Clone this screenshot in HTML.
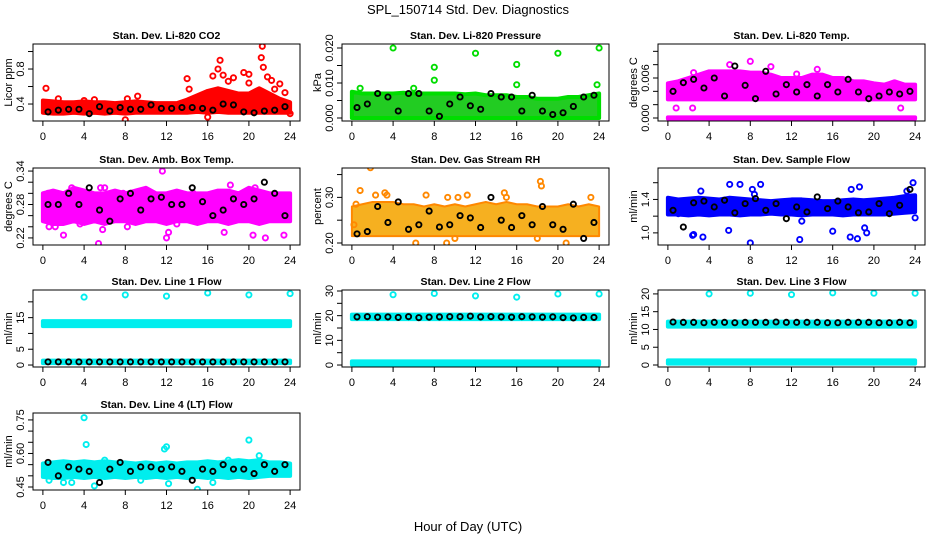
<!DOCTYPE html>
<html><head><meta charset="utf-8"><style>
html,body{margin:0;padding:0;background:#fff;}
svg{display:block;font-family:"Liberation Sans",sans-serif;}
</style></head><body>
<svg id="chart" width="936" height="540" viewBox="0 0 936 540" xmlns="http://www.w3.org/2000/svg">
<rect width="936" height="540" fill="#fff"/>
<text x="468" y="14" font-size="13" text-anchor="middle">SPL_150714  Std. Dev. Diagnostics</text>
<text x="468" y="531" font-size="13" text-anchor="middle">Hour of Day (UTC)</text>
</svg>
<script>
const hours=[0,1,2,3,4,5,6,7,8,9,10,11,12,13,14,15,16,17,18,19,20,21,22,23,24];
const blackHours=[0.5,1.5,2.5,3.5,4.5,5.5,6.5,7.5,8.5,9.5,10.5,11.5,12.5,13.5,14.5,15.5,16.5,17.5,18.5,19.5,20.5,21.5,22.5,23.5];
const xTicks=[0,4,8,12,16,20,24];

// CO2
const co2Low=[0.30,0.29,0.29,0.30,0.29,0.30,0.29,0.30,0.29,0.30,0.30,0.30,0.30,0.30,0.30,0.31,0.30,0.31,0.30,0.30,0.30,0.30,0.30,0.30,0.30];
const co2High=[0.44,0.43,0.42,0.42,0.43,0.42,0.42,0.41,0.42,0.43,0.42,0.41,0.41,0.41,0.45,0.50,0.55,0.58,0.55,0.52,0.52,0.58,0.52,0.46,0.42];
const co2X=[0.3,1.5,4,5,8,8.2,9.2,14,14.2,16,16.5,17,17.2,17.5,18,18.5,19.5,20,20,21.2,21.3,21.4,21.8,22.2,22.5,23,23.5,24];
const co2Y=[0.58,0.46,0.44,0.45,0.22,0.46,0.49,0.69,0.57,0.25,0.72,0.80,0.90,0.73,0.66,0.70,0.76,0.74,0.64,0.93,1.06,0.82,0.71,0.67,0.57,0.63,0.53,0.29];
const co2Black=[0.31,0.33,0.34,0.34,0.29,0.37,0.32,0.36,0.34,0.34,0.39,0.35,0.35,0.36,0.36,0.35,0.33,0.40,0.39,0.31,0.30,0.32,0.33,0.37];

// Pressure
const presLow=[0,0,0,0,0,0,0,0,0,0,0,0,0,0,0,0,0,0,0,0,0,0,0,0,0];
const presHigh=[0.0075,0.007,0.007,0.007,0.007,0.0072,0.007,0.007,0.007,0.007,0.007,0.0068,0.007,0.0065,0.0065,0.0065,0.006,0.006,0.0055,0.0055,0.0055,0.006,0.006,0.0065,0.007];
const presX=[4,8,8,12,16,16,20,24,23.8,6,0.8];
const presY=[0.020,0.0145,0.0108,0.0185,0.0153,0.0095,0.0185,0.020,0.0095,0.0085,0.0085];
const presBlack=[0.003,0.004,0.007,0.006,0.002,0.007,0.007,0.002,0.0005,0.004,0.006,0.0035,0.0025,0.007,0.006,0.006,0.002,0.0065,0.002,0.001,0.0015,0.0033,0.006,0.0065];

// Li-820 Temp
const tempLow=[0.0028,0.0028,0.0028,0.0028,0.0028,0.0028,0.0028,0.0028,0.0028,0.0028,0.0028,0.0028,0.0028,0.0028,0.0028,0.0028,0.0028,0.0028,0.0028,0.0028,0.0028,0.0028,0.0028,0.0028,0.0028];
const tempHigh=[0.0052,0.0055,0.006,0.0065,0.007,0.007,0.007,0.007,0.0068,0.0068,0.0065,0.006,0.006,0.006,0.0065,0.0065,0.006,0.006,0.0055,0.0055,0.0052,0.005,0.0055,0.005,0.005];
const tempZeroLow=[-0.0001,-0.0001,-0.0001,-0.0001,-0.0001,-0.0001,-0.0001,-0.0001,-0.0001,-0.0001,-0.0001,-0.0001,-0.0001,-0.0001,-0.0001,-0.0001,-0.0001,-0.0001,-0.0001,-0.0001,-0.0001,-0.0001,-0.0001,-0.0001,-0.0001];
const tempZeroHigh=[0.0001,0.0001,0.0001,0.0001,0.0001,0.0001,0.0001,0.0001,0.0001,0.0001,0.0001,0.0001,0.0001,0.0001,0.0001,0.0001,0.0001,0.0001,0.0001,0.0001,0.0001,0.0001,0.0001,0.0001,0.0001];
const tempX=[2.5,6,8,10,14.5,0.8,2.4,22.6,4.5,12.5];
const tempY=[0.0068,0.008,0.0085,0.0077,0.0073,0.0015,0.0015,0.0015,0.0066,0.0066];
const tempBlack=[0.004,0.0053,0.0058,0.0045,0.006,0.0033,0.0078,0.0049,0.0029,0.007,0.0036,0.005,0.0039,0.005,0.0033,0.005,0.0039,0.0058,0.0039,0.0029,0.0033,0.0039,0.0036,0.004];

// Amb box temp
const boxLow=[0.25,0.245,0.245,0.25,0.245,0.25,0.245,0.25,0.25,0.245,0.25,0.25,0.245,0.25,0.25,0.245,0.25,0.25,0.245,0.25,0.25,0.245,0.25,0.25,0.25];
const boxHigh=[0.30,0.305,0.30,0.31,0.305,0.30,0.30,0.305,0.30,0.305,0.31,0.30,0.30,0.305,0.30,0.30,0.30,0.305,0.305,0.30,0.31,0.305,0.30,0.30,0.30];
const boxX=[0.5,2,2.8,5.4,5.6,5.8,6,7.8,9.8,11.6,12,12.2,17.6,18.2,20.4,21.6,23.4,14.6,0.6,3.6,8.2,13,20.6,1.2];
const boxY=[0.30,0.225,0.31,0.21,0.31,0.235,0.31,0.30,0.30,0.34,0.22,0.23,0.23,0.315,0.225,0.22,0.225,0.30,0.24,0.245,0.24,0.245,0.31,0.24];
const boxBlack=[0.28,0.28,0.30,0.28,0.31,0.27,0.25,0.29,0.30,0.27,0.29,0.293,0.28,0.28,0.31,0.285,0.26,0.27,0.29,0.28,0.29,0.32,0.30,0.26];

// Gas stream RH
const rhLow=[0.215,0.215,0.215,0.215,0.215,0.215,0.215,0.215,0.215,0.215,0.215,0.215,0.215,0.215,0.215,0.215,0.215,0.215,0.215,0.215,0.215,0.215,0.215,0.215,0.215];
const rhHigh=[0.28,0.285,0.29,0.29,0.29,0.285,0.285,0.28,0.285,0.28,0.285,0.28,0.285,0.29,0.285,0.29,0.285,0.285,0.28,0.28,0.28,0.285,0.28,0.285,0.28];
const rhX=[0.4,0.8,1.8,2.3,3.2,3.4,7.2,9.3,10.3,11.2,14.8,18.3,18.4,23.2,6.2,9.2,20.8,10,18,15,0.2];
const rhY=[0.285,0.315,0.365,0.305,0.31,0.305,0.305,0.30,0.30,0.305,0.31,0.335,0.325,0.30,0.20,0.20,0.20,0.21,0.21,0.30,0.24];
const rhBlack=[0.22,0.225,0.28,0.245,0.29,0.23,0.24,0.27,0.235,0.24,0.26,0.255,0.234,0.30,0.25,0.234,0.26,0.24,0.28,0.24,0.23,0.285,0.21,0.245];

// Sample flow
const flowLow=[1.22,1.22,1.21,1.22,1.21,1.22,1.22,1.21,1.22,1.22,1.23,1.22,1.22,1.21,1.22,1.22,1.22,1.21,1.22,1.22,1.22,1.22,1.23,1.24,1.25];
const flowHigh=[1.42,1.40,1.41,1.42,1.41,1.40,1.42,1.41,1.40,1.39,1.38,1.39,1.40,1.40,1.39,1.38,1.38,1.39,1.40,1.39,1.40,1.41,1.42,1.44,1.45];
const flowX=[2.4,2.5,3.2,3.4,5.9,6,7,8,8.2,8.4,9,12.8,16,17.7,17.8,18.4,18.6,19.1,19.3,23.2,23.8,24,1.0,13];
const flowY=[0.97,0.98,1.50,0.95,1.03,1.58,1.58,0.88,1.52,1.46,1.58,0.92,1.02,0.95,1.52,0.93,1.55,1.06,1.00,1.50,1.60,1.18,1.23,1.14];
const flowBlack=[1.27,1.07,1.36,1.38,1.31,1.39,1.24,1.35,1.41,1.27,1.35,1.17,1.31,1.25,1.43,1.29,1.38,1.31,1.24,1.25,1.35,1.23,1.33,1.52];

// Line 1
const l1TopLow=[12.3,12.3,12.3,12.3,12.3,12.3,12.3,12.3,12.3,12.3,12.3,12.3,12.3,12.3,12.3,12.3,12.3,12.3,12.3,12.3,12.3,12.3,12.3,12.3,12.3];
const l1TopHigh=[13.9,13.9,13.9,13.9,13.9,13.9,13.9,13.9,13.9,13.9,13.9,13.9,13.9,13.9,13.9,13.9,13.9,13.9,13.9,13.9,13.9,13.9,13.9,13.9,13.9];
const l1BotLow=[0.6,0.6,0.6,0.6,0.6,0.6,0.6,0.6,0.6,0.6,0.6,0.6,0.6,0.6,0.6,0.6,0.6,0.6,0.6,0.6,0.6,0.6,0.6,0.6,0.6];
const l1BotHigh=[1.4,1.4,1.4,1.4,1.4,1.4,1.4,1.4,1.4,1.4,1.4,1.4,1.4,1.4,1.4,1.4,1.4,1.4,1.4,1.4,1.4,1.4,1.4,1.4,1.4];
const l1X=[4,8,12,16,20,24];
const l1Y=[21.5,22.2,21.8,22.8,22.2,22.6];
const l1Black=[1.0,1.0,1.0,1.0,1.0,1.0,1.0,1.0,1.0,1.0,1.0,1.0,1.0,1.0,1.0,1.0,1.0,1.0,1.0,1.0,1.0,1.0,1.0,1.0];

// Line 2
const l2TopLow=[18.6,18.6,18.6,18.6,18.6,18.6,18.6,18.6,18.6,18.6,18.6,18.6,18.6,18.6,18.6,18.6,18.6,18.6,18.6,18.6,18.6,18.6,18.6,18.6,18.6];
const l2TopHigh=[20.4,20.4,20.4,20.4,20.4,20.4,20.4,20.4,20.4,20.4,20.4,20.4,20.4,20.4,20.4,20.4,20.4,20.4,20.4,20.4,20.4,20.4,20.4,20.4,20.4];
const l2BotLow=[0.2,0.2,0.2,0.2,0.2,0.2,0.2,0.2,0.2,0.2,0.2,0.2,0.2,0.2,0.2,0.2,0.2,0.2,0.2,0.2,0.2,0.2,0.2,0.2,0.2];
const l2BotHigh=[1.5,1.5,1.5,1.5,1.5,1.5,1.5,1.5,1.5,1.5,1.5,1.5,1.5,1.5,1.5,1.5,1.5,1.5,1.5,1.5,1.5,1.5,1.5,1.5,1.5];
const l2X=[4,8,12,16,20,24];
const l2Y=[28.5,29.0,28.0,27.5,28.8,28.8];
const l2Black=[19.5,19.6,19.4,19.5,19.3,19.6,19.2,19.4,19.5,19.6,19.6,19.8,19.5,19.6,19.5,19.4,19.6,19.5,19.4,19.5,19.2,19.1,19.3,19.3];

// Line 3
const l3TopLow=[10.8,10.8,10.8,10.8,10.8,10.8,10.8,10.8,10.8,10.8,10.8,10.8,10.8,10.8,10.8,10.8,10.8,10.8,10.8,10.8,10.8,10.8,10.8,10.8,10.8];
const l3TopHigh=[12.2,12.2,12.2,12.2,12.2,12.2,12.2,12.2,12.2,12.2,12.2,12.2,12.2,12.2,12.2,12.2,12.2,12.2,12.2,12.2,12.2,12.2,12.2,12.2,12.2];
const l3BotLow=[0.4,0.4,0.4,0.4,0.4,0.4,0.4,0.4,0.4,0.4,0.4,0.4,0.4,0.4,0.4,0.4,0.4,0.4,0.4,0.4,0.4,0.4,0.4,0.4,0.4];
const l3BotHigh=[1.3,1.3,1.3,1.3,1.3,1.3,1.3,1.3,1.3,1.3,1.3,1.3,1.3,1.3,1.3,1.3,1.3,1.3,1.3,1.3,1.3,1.3,1.3,1.3,1.3];
const l3X=[4,8,12,16,20,24];
const l3Y=[20.0,20.2,19.8,20.3,20.2,20.2];
const l3Black=[12.1,12.0,12.0,11.9,12.0,12.0,11.9,12.0,12.0,12.0,12.1,12.0,12.0,12.0,12.0,11.9,11.9,12.0,12.0,12.0,11.9,11.9,12.0,11.9];

// Line 4
const l4Low=[0.495,0.49,0.49,0.495,0.49,0.495,0.49,0.495,0.49,0.495,0.49,0.495,0.49,0.495,0.49,0.495,0.49,0.495,0.49,0.495,0.49,0.495,0.50,0.50,0.50];
const l4High=[0.555,0.56,0.565,0.56,0.565,0.56,0.565,0.56,0.56,0.555,0.56,0.555,0.56,0.555,0.56,0.56,0.565,0.56,0.565,0.57,0.565,0.57,0.56,0.56,0.555];
const l4X=[4,4.2,12,20,21,15,2,2.8,0.6,5,11.8,12.2,18,16.5,6,9.5];
const l4Y=[0.76,0.64,0.63,0.66,0.59,0.44,0.47,0.47,0.48,0.455,0.62,0.465,0.57,0.47,0.57,0.48];
const l4Black=[0.56,0.50,0.54,0.53,0.52,0.47,0.53,0.56,0.52,0.54,0.54,0.53,0.54,0.52,0.48,0.53,0.52,0.55,0.53,0.53,0.51,0.55,0.52,0.55];

const panels=[
 {id:'co2',title:'Stan. Dev. Li-820 CO2',yl:'Licor ppm',col:0,row:0,ymin:0.206,ymax:1.086,ticks:[0.4,0.6,0.8,1.0],labels:['0.4','','0.8',''],color:'#ff0000',fill:'#ff0000',bw:4,bands:[[co2Low,co2High]],px:co2X,py:co2Y,black:co2Black},
 {id:'pressure',title:'Stan. Dev. Li-820 Pressure',yl:'kPa',col:1,row:0,ymin:-0.00086,ymax:0.02114,ticks:[0,0.005,0.010,0.015,0.020],labels:['0.000','','0.010','','0.020'],color:'#00dd00',fill:'#22cc22',bw:4,bands:[[presLow,presHigh]],px:presX,py:presY,black:presBlack},
 {id:'li820-temp',title:'Stan. Dev. Li-820 Temp.',yl:'degrees C',col:2,row:0,ymin:-0.00045,ymax:0.0111,ticks:[0,0.002,0.004,0.006,0.008,0.010],labels:['0.000','','','0.006','',''],color:'#ff00ff',fill:'#ff00ff',bw:4,bands:[[tempLow,tempHigh],[tempZeroLow,tempZeroHigh]],px:tempX,py:tempY,black:tempBlack},
 {id:'box-temp',title:'Stan. Dev. Amb. Box Temp.',yl:'degrees C',col:0,row:1,ymin:0.2073,ymax:0.3455,ticks:[0.22,0.24,0.26,0.28,0.30,0.32,0.34],labels:['0.22','','','0.28','','','0.34'],color:'#ff00ff',fill:'#ff00ff',bw:4,bands:[[boxLow,boxHigh]],px:boxX,py:boxY,black:boxBlack},
 {id:'gas-rh',title:'Stan. Dev. Gas Stream RH',yl:'percent',col:1,row:1,ymin:0.1956,ymax:0.3644,ticks:[0.20,0.25,0.30,0.35],labels:['0.20','','0.30',''],color:'#ff8800',fill:'#f6b020',bw:2,bands:[[rhLow,rhHigh]],px:rhX,py:rhY,black:rhBlack},
 {id:'sample-flow',title:'Stan. Dev. Sample Flow',yl:'ml/min',col:2,row:1,ymin:0.855,ymax:1.776,ticks:[1.0,1.2,1.4,1.6],labels:['1.0','','1.4',''],color:'#0000ff',fill:'#0000ff',bw:4,bands:[[flowLow,flowHigh]],px:flowX,py:flowY,black:flowBlack},
 {id:'line1-flow',title:'Stan. Dev. Line 1 Flow',yl:'ml/min',col:0,row:2,ymin:-0.625,ymax:23.75,ticks:[0,5,10,15,20],labels:['0','5','','15',''],color:'#00eeee',fill:'#00eeee',bw:4,bands:[[l1TopLow,l1TopHigh],[l1BotLow,l1BotHigh]],px:l1X,py:l1Y,black:l1Black},
 {id:'line2-flow',title:'Stan. Dev. Line 2 Flow',yl:'ml/min',col:1,row:2,ymin:-0.8,ymax:30.4,ticks:[0,5,10,15,20,25,30],labels:['0','','10','','20','','30'],color:'#00eeee',fill:'#00eeee',bw:4,bands:[[l2TopLow,l2TopHigh],[l2BotLow,l2BotHigh]],px:l2X,py:l2Y,black:l2Black},
 {id:'line3-flow',title:'Stan. Dev. Line 3 Flow',yl:'ml/min',col:2,row:2,ymin:-0.56,ymax:21.1,ticks:[0,5,10,15,20],labels:['0','5','10','15','20'],color:'#00eeee',fill:'#00eeee',bw:4,bands:[[l3TopLow,l3TopHigh],[l3BotLow,l3BotHigh]],px:l3X,py:l3Y,black:l3Black},
 {id:'line4-flow',title:'Stan. Dev. Line 4 (LT) Flow',yl:'ml/min',col:0,row:3,ymin:0.4366,ymax:0.781,ticks:[0.45,0.50,0.55,0.60,0.65,0.70,0.75],labels:['0.45','','','0.60','','','0.75'],color:'#00eeee',fill:'#00eeee',bw:4,bands:[[l4Low,l4High]],px:l4X,py:l4Y,black:l4Black}
];

const NS='http://www.w3.org/2000/svg';
const svg=document.getElementById('chart');
const colLeft=[33,342,658];
const rowTop=[44,168,290,413];
const PW=267, PH=77;
function mk(tag,attrs,parent){const e=document.createElementNS(NS,tag);for(const k in attrs)e.setAttribute(k,attrs[k]);(parent||svg).appendChild(e);return e;}

panels.forEach(p=>{
  const L=colLeft[p.col], T=rowTop[p.row], B=T+PH;
  const sx=h=>L+(h+0.96)/25.92*PW;
  const sy=v=>T+(p.ymax-v)/(p.ymax-p.ymin)*PH;
  const g=mk('g',{});
  
  
  const cp=mk('clipPath',{id:'clip-'+p.id},g);
  mk('rect',{x:L,y:T,width:PW,height:PH},cp);
  const plot=mk('g',{'clip-path':'url(#clip-'+p.id+')'},g);
  
  
  p.bands.forEach((b,i)=>{
    const pts=hours.map((h,j)=>sx(h)+','+sy(b[1][j])).concat(hours.slice().reverse().map((h,j)=>sx(h)+','+sy(b[0][hours.length-1-j])));
    const poly=mk('polygon',{points:pts.join(' '),fill:p.fill,stroke:p.color,'stroke-width':p.bw,'stroke-linejoin':'round'},plot);
    
    
  });
  p.px.forEach((x,i)=>{
    const c=mk('circle',{cx:sx(x),cy:sy(p.py[i]),r:2.6,fill:'none',stroke:p.color,'stroke-width':1.9},plot);
    
    
  });
  p.black.forEach((v,i)=>{
    const c=mk('circle',{cx:sx(blackHours[i]),cy:sy(v),r:2.6,fill:'none',stroke:'#000','stroke-width':1.9},plot);
    
    
  });
  const box=mk('rect',{x:L,y:T,width:PW,height:PH,fill:'none',stroke:'#000','stroke-width':1},g);
  
  
  const title=mk('text',{x:L+PW/2,y:T-5,'font-size':10.5,'font-weight':'bold','text-anchor':'middle'},g);
  title.textContent=p.title;
  
  
  const yt=mk('text',{x:0,y:0,'font-size':11,'text-anchor':'middle',transform:'translate('+(L-21)+','+(T+PH/2)+') rotate(-90)'},g);
  yt.textContent=p.yl;
  
  
  mk('line',{x1:sx(0),y1:B,x2:sx(24),y2:B,stroke:'#000'},g);
  xTicks.forEach(t=>{
    mk('line',{x1:sx(t),y1:B,x2:sx(t),y2:B+5,stroke:'#000'},g);
    const lb=mk('text',{x:sx(t),y:B+19,'font-size':11,'text-anchor':'middle'},g);
    lb.textContent=t;
    
    
  });
  mk('line',{x1:L,y1:sy(p.ticks[0]),x2:L,y2:sy(p.ticks[p.ticks.length-1]),stroke:'#000'},g);
  p.ticks.forEach((t,i)=>{
    mk('line',{x1:L-5,y1:sy(t),x2:L,y2:sy(t),stroke:'#000'},g);
    if(p.labels[i]){
      const lb=mk('text',{x:0,y:0,'font-size':11,'text-anchor':'middle',transform:'translate('+(L-9)+','+sy(t)+') rotate(-90)'},g);
      lb.textContent=p.labels[i];
      
      
    }
  });
});
</script>
</body></html>
